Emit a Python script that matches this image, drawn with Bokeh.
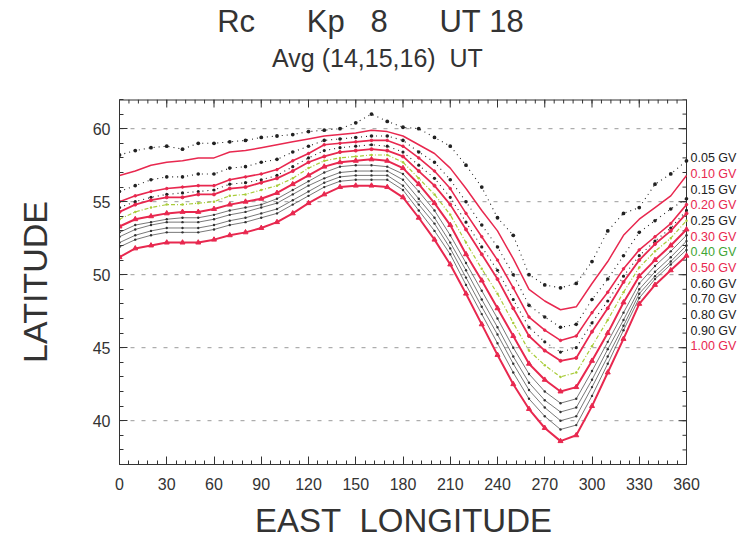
from bokeh.plotting import figure
from bokeh.models import Range1d, FixedTicker, ColumnDataSource
from bokeh.layouts import column, row
from bokeh.core.properties import value
from bokeh.embed import file_html
from bokeh.resources import INLINE

# ---------------- data ----------------
lon = [0, 10, 20, 30, 40, 50, 60, 70, 80, 90, 100, 110, 120, 130, 140, 150, 160, 170, 180,
       190, 200, 210, 220, 230, 240, 250, 260, 270, 280, 290, 300, 310, 320, 330, 340, 350, 360]

rc_005 = [58.2, 58.5, 58.7, 58.8, 58.6, 59.0, 59.0, 59.1, 59.2, 59.4, 59.5, 59.6, 59.8, 59.9, 60.0, 60.4, 61.0, 60.5, 60.1,
          60.0, 59.4, 58.8, 57.5, 56.0, 53.9, 52.7, 50.0, 49.3, 49.1, 49.4, 50.9, 53.0, 54.2, 54.6, 56.2, 56.9, 57.8]
rc_010 = [56.8, 57.1, 57.5, 57.7, 57.8, 58.0, 58.0, 58.4, 58.5, 58.7, 58.9, 59.1, 59.3, 59.5, 59.6, 59.7, 59.9, 59.8, 59.5,
          58.9, 58.3, 57.3, 55.9, 54.4, 53.0, 51.1, 49.0, 48.2, 47.6, 47.8, 49.4, 50.9, 52.7, 53.8, 54.6, 55.4, 56.8]
rc_015 = [55.7, 56.1, 56.5, 56.7, 56.7, 56.9, 56.9, 57.3, 57.4, 57.7, 57.9, 58.4, 58.8, 59.2, 59.3, 59.4, 59.5, 59.5, 59.2,
          58.4, 57.7, 56.5, 55.0, 53.4, 51.9, 50.0, 47.9, 47.1, 46.4, 46.6, 48.3, 49.7, 51.3, 52.9, 53.7, 54.5, 55.2]
rc_020 = [55.0, 55.4, 55.7, 55.9, 56.0, 56.1, 56.1, 56.5, 56.7, 56.9, 57.2, 57.8, 58.3, 58.9, 59.0, 59.1, 59.2, 59.2, 58.8,
          58.0, 57.1, 55.9, 54.2, 52.6, 51.0, 49.1, 47.1, 46.2, 45.5, 45.8, 47.4, 48.8, 50.4, 51.7, 52.6, 53.5, 54.8]
rc_025 = [54.6, 55.0, 55.3, 55.5, 55.6, 55.7, 55.8, 56.2, 56.3, 56.5, 56.8, 57.4, 58.0, 58.5, 58.7, 58.8, 58.9, 58.8, 58.4,
          57.5, 56.6, 55.3, 53.6, 51.9, 50.3, 48.3, 46.4, 45.4, 44.7, 45.0, 46.7, 48.2, 49.9, 51.3, 52.3, 53.2, 54.4]
rc_030 = [54.3, 54.8, 55.1, 55.3, 55.3, 55.5, 55.5, 55.9, 56.0, 56.3, 56.6, 57.1, 57.7, 58.1, 58.4, 58.5, 58.6, 58.5, 58.1,
          57.1, 56.1, 54.8, 53.1, 51.4, 49.7, 47.7, 45.8, 44.8, 44.1, 44.3, 46.1, 47.7, 49.5, 51.0, 52.1, 53.0, 54.2]
rc_040 = [53.8, 54.3, 54.6, 54.8, 54.8, 54.9, 55.0, 55.4, 55.5, 55.8, 56.1, 56.6, 57.3, 57.8, 58.0, 58.1, 58.2, 58.2, 57.7,
          56.6, 55.5, 54.1, 52.2, 50.4, 48.7, 46.7, 44.8, 43.8, 43.0, 43.3, 45.1, 46.9, 48.8, 50.5, 51.6, 52.5, 53.7]
rc_050 = [53.3, 53.8, 54.0, 54.2, 54.3, 54.3, 54.5, 54.8, 55.0, 55.2, 55.6, 56.2, 56.8, 57.4, 57.7, 57.8, 57.9, 57.8, 57.3,
          56.2, 54.9, 53.4, 51.4, 49.6, 47.7, 45.8, 43.9, 42.8, 42.0, 42.3, 44.1, 46.0, 48.1, 49.9, 51.0, 52.0, 53.1]
rc_060 = [52.9, 53.4, 53.6, 53.8, 53.9, 53.9, 54.1, 54.4, 54.6, 54.8, 55.2, 55.8, 56.4, 57.0, 57.4, 57.5, 57.5, 57.4, 56.9,
          55.7, 54.4, 52.7, 50.8, 48.9, 47.0, 45.0, 43.2, 42.0, 41.2, 41.5, 43.4, 45.4, 47.4, 49.4, 50.6, 51.6, 52.7]
rc_070 = [52.6, 53.1, 53.4, 53.6, 53.6, 53.6, 53.8, 54.1, 54.3, 54.6, 54.9, 55.5, 56.1, 56.6, 57.0, 57.1, 57.1, 57.1, 56.5,
          55.2, 53.9, 52.2, 50.3, 48.3, 46.4, 44.4, 42.6, 41.4, 40.6, 40.9, 42.8, 44.9, 46.9, 49.0, 50.2, 51.2, 52.3]
rc_080 = [52.2, 52.7, 53.0, 53.2, 53.2, 53.2, 53.4, 53.7, 53.9, 54.2, 54.5, 55.1, 55.7, 56.3, 56.7, 56.8, 56.8, 56.8, 56.1,
          54.8, 53.5, 51.8, 49.8, 47.8, 45.9, 43.9, 42.1, 40.9, 40.0, 40.3, 42.3, 44.4, 46.5, 48.7, 49.9, 50.9, 52.0]
rc_090 = [51.9, 52.4, 52.7, 52.9, 52.9, 52.9, 53.1, 53.4, 53.6, 53.9, 54.2, 54.8, 55.4, 56.0, 56.4, 56.5, 56.5, 56.5, 55.8,
          54.4, 53.0, 51.4, 49.3, 47.3, 45.3, 43.3, 41.5, 40.3, 39.4, 39.7, 41.7, 43.9, 46.2, 48.4, 49.7, 50.7, 51.7]
rc_100 = [51.2, 51.8, 52.0, 52.2, 52.2, 52.2, 52.4, 52.7, 52.9, 53.2, 53.6, 54.2, 54.9, 55.5, 56.0, 56.1, 56.1, 56.0, 55.3,
          53.9, 52.4, 50.7, 48.7, 46.6, 44.5, 42.5, 40.8, 39.5, 38.6, 39.0, 41.0, 43.3, 45.6, 48.0, 49.3, 50.3, 51.3]

series_names = ["0.05 GV", "0.10 GV", "0.15 GV", "0.20 GV", "0.25 GV", "0.30 GV", "0.40 GV",
                "0.50 GV", "0.60 GV", "0.70 GV", "0.80 GV", "0.90 GV", "1.00 GV"]
series_values = [rc_005, rc_010, rc_015, rc_020, rc_025, rc_030, rc_040,
                 rc_050, rc_060, rc_070, rc_080, rc_090, rc_100]

x_ticks = [0, 30, 60, 90, 120, 150, 180, 210, 240, 270, 300, 330, 360]
x_minor = list(range(0, 361, 6))
y_ticks = [40, 45, 50, 55, 60]
y_minor = list(range(37, 63))

NB = "\u00a0"
title_1 = "Rc" + NB * 6 + "Kp" + NB * 3 + "8" + NB * 6 + "UT" + NB + "18"
title_2 = "Avg (14,15,16)" + NB * 2 + "UT"
x_title = "EAST" + NB * 2 + "LONGITUDE"
y_title = "LATITUDE"

# ---------------- styles ----------------
RED = "#e8284f"
BLACK = "#222222"
GREEN_TXT = "#3fa535"
GREEN_LINE = "#a9cc3a"
GRAY = "#555555"
FONT = "Liberation Sans"
TXT = "#333333"
AX = "#333333"

styles = {
    "0.05 GV": dict(kind="dots", color=BLACK, size=3.8),
    "0.10 GV": dict(kind="line", color=RED, width=1.5),
    "0.15 GV": dict(kind="dots", color=BLACK, size=3.6),
    "0.20 GV": dict(kind="linem", color=RED, width=1.6, marker="circle", msize=2.5),
    "0.25 GV": dict(kind="dots", color=BLACK, size=3.2),
    "0.30 GV": dict(kind="linem", color=RED, width=1.8, marker="circle", msize=3),
    "0.40 GV": dict(kind="dash", color=GREEN_LINE, width=1.2),
    "0.50 GV": dict(kind="linem", color=RED, width=2.0, marker="triangle", msize=5),
    "0.60 GV": dict(kind="thin", color=GRAY, width=0.8),
    "0.70 GV": dict(kind="thin", color=GRAY, width=0.8),
    "0.80 GV": dict(kind="thin", color=GRAY, width=0.8),
    "0.90 GV": dict(kind="thin", color=GRAY, width=0.8),
    "1.00 GV": dict(kind="linem", color=RED, width=2.0, marker="triangle", msize=5),
}
label_colors = {"0.10 GV": RED, "0.20 GV": RED, "0.30 GV": RED, "0.50 GV": RED,
                "1.00 GV": RED, "0.40 GV": GREEN_TXT}

# layout geometry (pixels)
W = 742
HEAD_H = 97
MAIN_H = 399
FOOT_H = 541 - HEAD_H - MAIN_H
FRAME_L, FRAME_R = 119, 686          # plotted longitude span 0..360 on screen
BORDER_B = MAIN_H - 367

X0, X1, Y0, Y1 = 0, 360, 37, 62
px_per_deg = (FRAME_R - FRAME_L) / (X1 - X0)
px_per_lat = (367 - 2) / (Y1 - Y0)
XR = X0 + (W - FRAME_L) / px_per_deg   # frame extends into the legend column


def blank(fig):
    fig.axis.visible = False
    fig.grid.visible = False
    fig.outline_line_color = None


# ---------------- header (titles) ----------------
head = figure(width=W, height=HEAD_H, x_range=Range1d(0, W), y_range=Range1d(HEAD_H, 0),
              output_backend="svg", toolbar_location=None,
              min_border_left=0, min_border_right=0, min_border_top=0, min_border_bottom=0)
blank(head)
head.text(x=[370], y=[21], text=[title_1], text_font=value(FONT), text_font_size={"value": "31px"},
          text_color=TXT, text_align="center", text_baseline="middle")
head.text(x=[377], y=[57], text=[title_2], text_font=value(FONT), text_font_size={"value": "25px"},
          text_color=TXT, text_align="center", text_baseline="middle")

# ---------------- main plot ----------------
p = figure(width=W, height=MAIN_H, x_range=Range1d(X0, XR), y_range=Range1d(Y0, Y1),
           output_backend="svg", toolbar_location=None,
           min_border_left=FRAME_L, min_border_right=0, min_border_top=2, min_border_bottom=BORDER_B)
p.outline_line_color = None
p.grid.visible = False

p.xaxis.ticker = FixedTicker(ticks=x_ticks, minor_ticks=x_minor)
p.yaxis.ticker = FixedTicker(ticks=y_ticks, minor_ticks=y_minor)
p.xaxis.bounds = (X0, X1)
for ax in (p.xaxis[0], p.yaxis[0]):
    ax.axis_line_color = AX
    ax.major_tick_line_color = AX
    ax.minor_tick_line_color = AX
    ax.major_tick_in = 8
    ax.major_tick_out = 0
    ax.minor_tick_in = 4
    ax.minor_tick_out = 0
    ax.major_label_text_font = FONT
    ax.major_label_text_font_size = "16px"
    ax.major_label_text_color = TXT
p.xaxis.major_label_standoff = 13
p.yaxis.major_label_standoff = 9
p.yaxis.axis_label = y_title
p.yaxis.axis_label_text_font = FONT
p.yaxis.axis_label_text_font_size = "34px"
p.yaxis.axis_label_text_font_style = "normal"
p.yaxis.axis_label_text_color = TXT
p.yaxis.axis_label_standoff = 36

# dashed horizontal grid over the plotted longitudes only
p.segment(x0=[X0] * len(y_ticks), y0=y_ticks, x1=[X1] * len(y_ticks), y1=y_ticks,
          line_color="#9a9a9a", line_width=1, line_dash="4 7")

# top and right frame edges with inward tick marks
p.segment(x0=[X0], y0=[Y1], x1=[X1], y1=[Y1], line_color=AX, line_width=2)
p.segment(x0=[X1], y0=[Y0], x1=[X1], y1=[Y1], line_color=AX, line_width=1)
tk_maj_y = 8 / px_per_lat
tk_min_y = 4 / px_per_lat
tk_maj_x = 8 / px_per_deg
tk_min_x = 4 / px_per_deg
p.segment(x0=x_ticks, y0=[Y1] * len(x_ticks), x1=x_ticks, y1=[Y1 - tk_maj_y] * len(x_ticks),
          line_color=AX, line_width=1)
p.segment(x0=x_minor, y0=[Y1] * len(x_minor), x1=x_minor, y1=[Y1 - tk_min_y] * len(x_minor),
          line_color=AX, line_width=1)
p.segment(x0=[X1] * len(y_ticks), y0=y_ticks, x1=[X1 - tk_maj_x] * len(y_ticks), y1=y_ticks,
          line_color=AX, line_width=1)
p.segment(x0=[X1] * len(y_minor), y0=y_minor, x1=[X1 - tk_min_x] * len(y_minor), y1=y_minor,
          line_color=AX, line_width=1)

for name, vals in zip(series_names, series_values):
    st = styles[name]
    src = ColumnDataSource(dict(x=lon, y=vals))
    k = st["kind"]
    if k == "dots":
        p.line("x", "y", source=src, line_color=st["color"], line_width=1.1, line_dash="1 4")
        p.scatter("x", "y", source=src, marker="circle", size=st["size"],
                  fill_color=st["color"], line_color=None)
    elif k == "line":
        p.line("x", "y", source=src, line_color=st["color"], line_width=st["width"])
    elif k == "linem":
        p.line("x", "y", source=src, line_color=st["color"], line_width=st["width"])
        p.scatter("x", "y", source=src, marker=st["marker"], size=st["msize"],
                  fill_color=st["color"], line_color=st["color"])
    elif k == "dash":
        p.line("x", "y", source=src, line_color=st["color"], line_width=st["width"], line_dash="4 2 1 2")
        p.scatter("x", "y", source=src, marker="circle", size=2.5,
                  fill_color=st["color"], line_color=None)
    else:
        p.line("x", "y", source=src, line_color=st["color"], line_width=st["width"])
        p.scatter("x", "y", source=src, marker="circle", size=2.4,
                  fill_color="#333333", line_color=None)

# legend column (text only, coloured like the curves)
leg_x = X1 + 4 / px_per_deg
leg_y = [57.96 - i * 1.073 for i in range(len(series_names))]
p.text(x=[leg_x] * len(series_names), y=leg_y, text=series_names,
       text_color=[label_colors.get(n, BLACK) for n in series_names],
       text_font=value(FONT), text_font_size={"value": "12.5px"},
       text_align="left", text_baseline="middle")

# ---------------- footer (x title) ----------------
foot = figure(width=W, height=FOOT_H, x_range=Range1d(0, W), y_range=Range1d(FOOT_H, 0),
              output_backend="svg", toolbar_location=None,
              min_border_left=0, min_border_right=0, min_border_top=0, min_border_bottom=0)
blank(foot)
foot.text(x=[403], y=[520 - HEAD_H - MAIN_H], text=[x_title], text_font=value(FONT),
          text_font_size={"value": "33px"}, text_color=TXT, text_align="center", text_baseline="middle")

layout = column(row(head), row(p), row(foot))
open("out.html", "w").write(file_html(layout, INLINE))
